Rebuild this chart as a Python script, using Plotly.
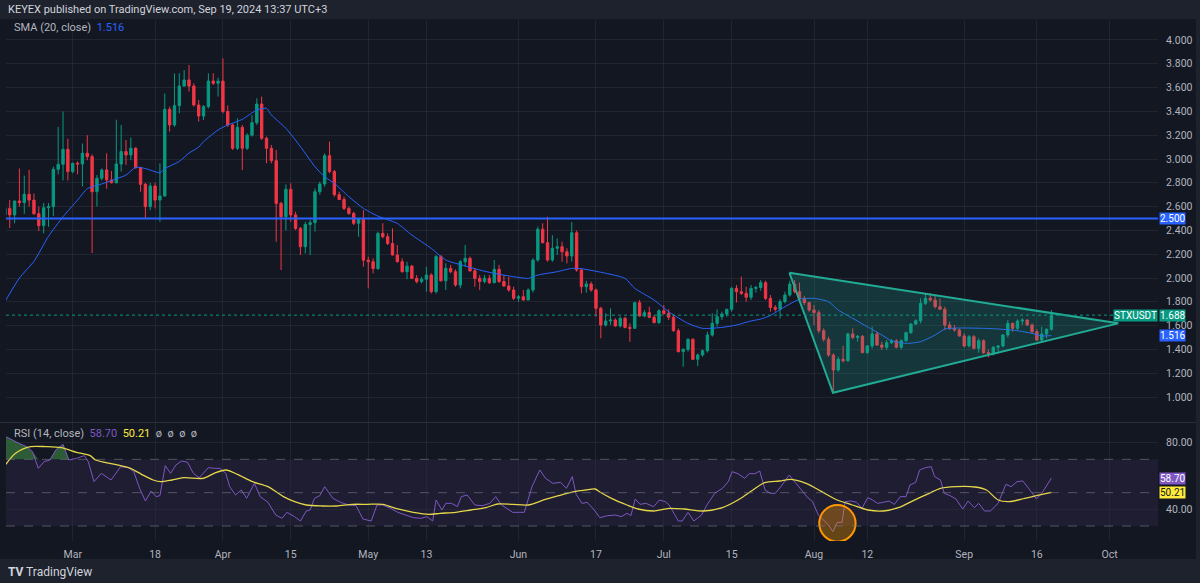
import pandas as pd
import plotly.graph_objects as go

# STX/USDT daily candles, 16 Feb - 19 Sep 2024.
# Crypto candles open at the previous close, so only the first open is stored.
first_day = "2024-02-16"
first_open = 2.53

close = [
    2.585, 2.53, 2.647, 2.633, 2.703, 2.655, 2.54, 2.44, 2.59, 2.60, 2.913, 2.955, 3.081, 2.894,  # Feb 16-29
    2.964, 2.958, 3.048, 3.02, 2.725, 2.838, 2.908, 2.824, 2.80, 2.958, 3.062, 3.034, 3.09, 2.927, 2.787, 2.60,
    2.773, 2.655, 2.689, 3.417, 3.286, 3.448, 3.613, 3.664, 3.613, 3.454, 3.361, 3.44, 3.655, 3.636, 3.655,  # Mar
    3.40, 3.286, 3.09, 3.266, 3.09, 3.20, 3.305, 3.462, 3.174, 3.09, 2.986, 2.627, 2.515, 2.745, 2.53,
    2.417, 2.263, 2.45, 2.465, 2.725, 2.79, 3.028, 2.894, 2.70, 2.66, 2.585, 2.543, 2.46, 2.493, 2.15,  # Apr
    2.137, 2.08, 2.375, 2.347, 2.29, 2.193, 2.137, 2.053, 2.10, 1.997, 1.97, 1.99, 2.025, 1.885, 2.18, 1.977,
    2.081, 2.053, 1.941, 2.137, 2.165, 2.06, 1.997, 1.97, 1.997, 1.96, 2.073, 1.97, 1.933, 1.899, 1.83,  # May
    1.843, 1.815, 1.899, 2.151, 2.41, 2.297, 2.151, 2.25, 2.263, 2.22, 2.185, 2.38, 2.067, 1.927, 1.95,
    1.899, 1.745, 1.605, 1.639, 1.647, 1.597, 1.661, 1.585, 1.577, 1.793, 1.681, 1.709, 1.67, 1.625, 1.725,  # Jun
    1.703, 1.67, 1.557, 1.381, 1.40, 1.485, 1.317, 1.353, 1.389, 1.521, 1.619, 1.675, 1.697, 1.737, 1.913, 1.885,
    1.871, 1.838, 1.913, 1.92, 1.961, 1.829, 1.753, 1.737, 1.801, 1.857, 1.949, 1.885, 1.829, 1.793, 1.731,  # Jul
    1.709, 1.557, 1.485, 1.353, 1.227, 1.317, 1.305, 1.53, 1.50, 1.51, 1.373, 1.429, 1.53, 1.437, 1.418, 1.457,
    1.473, 1.418, 1.473, 1.541, 1.613, 1.641, 1.787, 1.829, 1.815, 1.759, 1.737, 1.605, 1.577, 1.563, 1.513,  # Aug
    1.429, 1.507, 1.409, 1.473, 1.373, 1.361, 1.418, 1.429, 1.521, 1.619, 1.577, 1.639, 1.647, 1.605, 1.549,
    1.479, 1.529, 1.569, 1.688,  # Sep 1-19
]
high = [
    2.60, 2.655, 2.65, 2.92, 2.86, 2.91, 2.71, 2.60, 2.63, 2.63, 2.935, 3.27, 3.40, 3.17,
    2.97, 2.98, 3.13, 3.20, 3.04, 2.865, 2.92, 3.048, 2.90, 3.33, 3.286, 3.16, 3.18, 3.10, 2.935, 2.80,
    2.80, 2.80, 2.964, 3.55, 3.44, 3.72, 3.72, 3.748, 3.79, 3.636, 3.496, 3.454, 3.72, 3.72, 3.683,
    3.846, 3.45, 3.30, 3.342, 3.286, 3.216, 3.37, 3.51, 3.524, 3.188, 3.118, 3.076, 2.64, 2.787, 2.795,
    2.557, 2.43, 2.473, 2.487, 2.753, 2.81, 3.048, 3.146, 2.908, 2.726, 2.683, 2.60, 2.557, 2.50, 2.57,
    2.18, 2.165, 2.39, 2.46, 2.375, 2.417, 2.277, 2.165, 2.137, 2.11, 2.025, 2.01, 2.095, 2.04, 2.193, 2.193,
    2.123, 2.11, 2.073, 2.151, 2.277, 2.18, 2.081, 2.025, 2.025, 2.025, 2.151, 2.11, 2.025, 2.011, 1.927,
    1.857, 1.899, 1.913, 2.165, 2.432, 2.46, 2.515, 2.36, 2.333, 2.305, 2.25, 2.47, 2.40, 2.081, 1.977,
    1.97, 1.913, 1.759, 1.703, 1.745, 1.661, 1.675, 1.675, 1.619, 1.801, 1.815, 1.731, 1.759, 1.689, 1.737,
    1.773, 1.737, 1.689, 1.577, 1.409, 1.493, 1.493, 1.367, 1.40, 1.549, 1.703, 1.737, 1.717, 1.742, 1.927, 1.941,
    2.011, 1.927, 1.941, 1.933, 1.983, 1.977, 1.857, 1.773, 1.821, 1.885, 1.977, 1.983, 1.961, 1.849, 1.801,
    1.773, 1.731, 1.577, 1.507, 1.367, 1.339, 1.43, 1.541, 1.577, 1.521, 1.521, 1.437, 1.591, 1.549, 1.465, 1.479,
    1.485, 1.485, 1.485, 1.549, 1.62, 1.653, 1.829, 1.871, 1.871, 1.849, 1.829, 1.759, 1.633, 1.605, 1.577,
    1.535, 1.521, 1.521, 1.493, 1.485, 1.40, 1.429, 1.437, 1.529, 1.647, 1.625, 1.653, 1.661, 1.653, 1.619,
    1.569, 1.591, 1.577, 1.731,
]
low = [
    2.52, 2.42, 2.46, 2.60, 2.54, 2.60, 2.53, 2.395, 2.375, 2.43, 2.52, 2.87, 2.82, 2.82,
    2.88, 2.87, 2.77, 2.99, 2.21, 2.60, 2.82, 2.75, 2.795, 2.795, 2.894, 2.95, 2.99, 2.92, 2.725, 2.50,
    2.57, 2.585, 2.473, 2.683, 3.23, 3.27, 3.384, 3.608, 3.566, 3.44, 3.314, 3.328, 3.426, 3.622, 3.524,
    3.384, 3.27, 3.076, 3.076, 2.908, 3.076, 3.188, 3.286, 3.16, 2.964, 2.964, 2.305, 2.067, 2.40, 2.473,
    2.403, 2.193, 2.207, 2.193, 2.39, 2.70, 2.767, 2.88, 2.683, 2.655, 2.571, 2.53, 2.445, 2.347, 2.095,
    1.913, 2.04, 2.067, 2.333, 2.277, 2.19, 2.13, 2.045, 1.99, 1.99, 1.955, 1.955, 1.885, 1.87, 1.87, 1.97,
    1.899, 2.04, 1.927, 1.913, 2.095, 2.053, 1.927, 1.899, 1.955, 1.95, 1.96, 1.96, 1.927, 1.885, 1.815,
    1.80, 1.81, 1.815, 1.877, 2.137, 2.29, 2.137, 2.137, 2.193, 2.137, 2.123, 2.137, 2.053, 1.871, 1.877,
    1.885, 1.675, 1.493, 1.591, 1.605, 1.591, 1.585, 1.577, 1.465, 1.577, 1.675, 1.67, 1.661, 1.619, 1.613,
    1.689, 1.647, 1.549, 1.375, 1.255, 1.381, 1.311, 1.26, 1.339, 1.373, 1.507, 1.591, 1.647, 1.675, 1.717, 1.793,
    1.857, 1.801, 1.815, 1.877, 1.893, 1.815, 1.717, 1.717, 1.661, 1.787, 1.843, 1.871, 1.815, 1.773, 1.717,
    1.605, 1.535, 1.465, 1.339, 1.045, 1.213, 1.29, 1.297, 1.485, 1.465, 1.367, 1.361, 1.409, 1.429, 1.395, 1.395,
    1.445, 1.409, 1.401, 1.465, 1.53, 1.605, 1.619, 1.773, 1.801, 1.745, 1.731, 1.563, 1.563, 1.549, 1.507,
    1.417, 1.417, 1.40, 1.373, 1.361, 1.333, 1.35, 1.381, 1.417, 1.501, 1.549, 1.563, 1.605, 1.597, 1.535,
    1.473, 1.465, 1.493, 1.557,
]

# SMA(20) line, read as (days from 1 Mar 2024, value)
sma_day = [-14, -11, -8, -5, -2, 1, 3, 6, 8, 11, 13, 15, 18, 19, 22, 24, 26, 27, 30, 32,
           35, 38, 40, 41, 44, 47, 50, 52, 54, 57, 60, 63, 65, 67, 70, 74, 77, 81, 84, 87,
           91, 94, 96, 100, 103, 105, 110, 114, 116, 120, 123, 127, 130, 134, 137, 140, 142, 144, 147, 150,
           153, 156, 158, 161, 164, 167, 169, 172, 175, 178, 180, 183, 188, 192, 195, 198, 200, 202]
sma_val = [1.80, 2.00, 2.14, 2.35, 2.515, 2.655, 2.75, 2.79, 2.82, 2.865, 2.93, 2.92, 2.885, 2.92, 2.98, 3.05, 3.10, 3.146, 3.244, 3.286,
           3.333, 3.412, 3.426, 3.37, 3.258, 3.104, 2.935, 2.85, 2.795, 2.683, 2.585, 2.52, 2.49, 2.459, 2.361, 2.249, 2.151, 2.101, 2.067, 2.039,
           2.011, 1.997, 2.025, 2.053, 2.081, 2.078, 2.04, 1.997, 1.913, 1.815, 1.717, 1.619, 1.577, 1.585, 1.605, 1.639, 1.655, 1.685, 1.759, 1.821,
           1.829, 1.801, 1.731, 1.661, 1.591, 1.521, 1.473, 1.451, 1.465, 1.521, 1.571, 1.58, 1.577, 1.569, 1.557, 1.535, 1.513, 1.516]

# RSI(14), read as (days from 1 Mar 2024, value)
rsi_day = [-13.8, -12.6, -11.1, -9.5, -8.3, -7.1, -5.9, -4.7, -3.5, -2.0, -0.8, 0.8, 2.4, 3.2, 4.4, 5.9, 7.9, 9.9, 11.5, 12.6,
           13.8, 15.0, 16.2, 17.2, 18.0, 19.1, 20.2, 21.3, 22.5, 23.7, 24.9, 26.1, 28.0, 29.2, 30.4, 31.6, 32.4, 33.6, 34.8, 35.9,
           37.5, 38.7, 40.3, 41.9, 43.2, 44.2, 45.8, 47.0, 48.2, 49.0, 49.9, 51.0, 52.0, 53.7, 55.3, 56.9, 58.5, 59.9, 61.6, 62.8,
           64.0, 65.6, 67.1, 68.7, 70.3, 71.9, 73.1, 74.3, 75.0, 76.2, 77.0, 78.2, 79.4, 80.2, 81.4, 83.0, 84.5, 86.1, 87.3, 88.5,
           90.8, 93.2, 94.8, 96.4, 97.6, 99.1, 100.7, 101.9, 103.1, 103.9, 105.1, 106.2, 107.8, 108.8,
           110.4, 112.0, 113.2, 114.4, 115.2, 116.1, 117.1, 118.3, 119.9, 121.1, 122.3, 123.1, 125.0, 125.8, 127.0, 128.2,
           129.8, 130.9, 132.5, 134.1, 135.3, 136.1, 137.3, 138.7, 139.6, 140.8, 141.8, 142.9, 144.0, 145.0, 146.1, 147.9,
           149.1, 150.3, 151.5, 152.7, 153.9, 155.0, 156.0, 156.9, 157.8, 158.8, 159.4, 160.6, 161.8, 162.9, 164.1, 165.1,
           166.1, 167.3, 168.5, 169.6, 170.8, 172.0, 172.8, 174.0, 174.8, 176.0, 177.2, 177.9, 179.1, 179.9, 181.1, 182.3,
           183.7, 184.8, 186.1, 187.0, 188.2, 189.4, 191.0, 192.6, 193.7, 194.9, 196.1, 197.3, 198.9, 200.0, 200.8, 202.0]
rsi_val = [83.6, 81.6, 79.6, 77.6, 74.6, 64.6, 68.6, 69.6, 75.6, 79, 69.6, 70.6, 72.2, 68.6, 56.6, 61.6, 57.6, 65.6, 65, 62.6,
           52.6, 45, 51, 47.6, 48.2, 66.2, 61.6, 66.6, 69, 68.2, 61.6, 59, 65, 64.6, 64.6, 61.6, 53.6, 48.6, 51.6, 46.6,
           55.6, 47.6, 44.2, 36.6, 34.6, 38.2, 35.6, 33, 39, 39.6, 46.6, 48.2, 53.6, 46.6, 44.2, 42.6, 42.2, 34.2, 33, 42.6,
           42.6, 40.6, 38.2, 36.6, 35, 34.6, 35.6, 33, 45.6, 39.6, 43.6, 43.6, 41.6, 47.6, 48.6, 42.6, 42.2, 43.6, 47.6, 42.6,
           38.2, 38.2, 53.6, 63.6, 58.6, 55.6, 56.2, 52.6, 59.6, 49, 43.6, 44.2, 39, 35,
           36.2, 36.6, 35.6, 37.6, 36.2, 46.2, 43, 43.6, 41.6, 45.6, 44.6, 42.6, 33, 33, 38.2, 33,
           36.6, 42.6, 49.6, 52.6, 56.6, 62.6, 61.4, 58.6, 61.4, 61.4, 63, 51.6, 49.6, 49.6, 53.4, 60.6,
           56, 52, 47.6, 44.6, 36.6, 33.6, 30.6, 26.6, 32.2, 32.2, 44.6, 45, 44.2, 40.6, 47, 45.6,
           43.6, 44.2, 45, 43, 47.6, 47.6, 54.6, 56.2, 63.6, 65, 65.6, 59.6, 57.6, 49.6, 48.2, 46.2,
           40.2, 45, 41, 43.6, 39, 39, 43.6, 55, 53.6, 56.6, 57, 52.6, 46.2, 49.6, 53.6, 58.7]

# RSI-based MA
rsi_ma_day = [-13.8, -11.8, -8.7, -5.5, -2.4, 0.8, 3.6, 4.7, 8.7, 11.9, 14.2, 16.6, 18.2, 20.5, 22.9, 26.9, 29.2, 31.6, 34.0, 37.1,
              40.3, 43.5, 45.8, 48.2, 51.4, 54.5, 57.7, 60.8, 64.0, 67.1, 70.3, 73.5, 75.8, 79.0, 82.2, 85.3, 87.7, 90.8, 94.0, 97.2,
              100.3, 103.5, 105.9, 107.8, 108.8, 111.2, 114.4, 116.7, 119.9, 123.1, 126.2, 130.2, 134.1, 137.3, 140.4, 142.8, 145.9, 148.3,
              151.5, 154.6, 157.8, 160.9, 164.1, 167.3, 170.4, 173.6, 176.8, 179.1, 182.3, 186.2, 188.6, 191.0, 193.3, 196.5, 198.9, 202.0]
rsi_ma_val = [67, 73.6, 77.6, 77.6, 77, 74.2, 72.2, 69.6, 67, 64.6, 61, 57.6, 56.6, 57.6, 59, 58.6, 61.6, 63.6, 61, 56.6,
              53.6, 47.6, 44.6, 42.6, 42, 42, 43, 43, 43, 40.2, 38.2, 37, 37.6, 38.2, 39.6, 41, 43.2, 43, 42.6, 45.6,
              48.2, 50.6, 51.6, 52.2, 50.4, 46.6, 42.6, 40.2, 39, 40.6, 40.2, 39, 41, 45.6, 51.6, 56, 57, 58,
              55.4, 50.6, 45.6, 42.6, 39.6, 39, 41, 45.4, 49.6, 52.6, 53.6, 53.4, 51.6, 45.6, 44.6, 46.6, 48.2, 50.2]

# drawings
hline_level = 2.5
tri_x = ["2024-07-26 22:00", "2024-08-04 22:00", "2024-10-02 19:00", "2024-07-26 22:00"]
tri_y = [2.044, 1.036, 1.619, 2.044]
circle_x = ["2024-08-02 02:00", "2024-08-09 14:00"]
circle_y = [20.6, 42.6]

price_ticks = [1.0, 1.2, 1.4, 1.6, 1.8, 2.0, 2.2, 2.4, 2.6, 2.8, 3.0, 3.2, 3.4, 3.6, 3.8, 4.0]
rsi_ticks = [40, 80]
tick_dates = ["2024-03-01", "2024-03-18", "2024-04-01", "2024-04-15", "2024-05-01", "2024-05-13", "2024-06-01",
              "2024-06-17", "2024-07-01", "2024-07-15", "2024-08-01", "2024-08-12", "2024-09-01", "2024-09-16",
              "2024-10-01"]
tick_text = ["Mar", "18", "Apr", "15", "May", "13", "Jun", "17", "Jul", "15", "Aug", "12", "Sep", "16", "Oct"]

last_price = 1.688
last_sma = 1.516
last_rsi = 58.70
last_rsi_ma = 50.21

BG = "#131722"
GRID = "rgba(42,46,57,0.6)"
TXT = "#b2b5be"
UP = "#089981"
DOWN = "#f23645"
FONT = "Roboto, 'Liberation Sans', sans-serif"

dates = pd.date_range(first_day, periods=len(close), freq="D")
opens = [first_open] + close[:-1]
base = pd.Timestamp("2024-03-01")


def to_dates(days):
    return [base + pd.Timedelta(days=d) for d in days]


# pixel helpers for the page overlay (plot area is x 6..1158, y 20..541)
def px(x):
    return (x - 6) / 1152


def py(y):
    return (541 - y) / 521


fig = go.Figure()

fig.add_trace(go.Candlestick(
    x=dates, open=opens, high=high, low=low, close=close,
    increasing=dict(line=dict(color=UP, width=1), fillcolor=UP),
    decreasing=dict(line=dict(color=DOWN, width=1), fillcolor=DOWN),
    whiskerwidth=0, showlegend=False, hoverinfo="skip",
    xaxis="x", yaxis="y",
))

fig.add_trace(go.Scatter(
    x=to_dates(sma_day), y=sma_val, mode="lines",
    line=dict(color="#2962ff", width=1, shape="spline", smoothing=0.6),
    showlegend=False, hoverinfo="skip", xaxis="x", yaxis="y",
))

# triangle drawing
fig.add_trace(go.Scatter(
    x=tri_x, y=tri_y, mode="lines", fill="toself",
    fillcolor="rgba(34,171,148,0.22)", line=dict(color="#22ab94", width=2),
    showlegend=False, hoverinfo="skip", xaxis="x", yaxis="y",
))

# RSI overbought fill (first stretch above 70)
ob_idx = [i for i, d in enumerate(rsi_day) if d <= -0.8]
ob_x = to_dates([rsi_day[i] for i in ob_idx])
fig.add_trace(go.Scatter(
    x=ob_x, y=[70] * len(ob_idx), mode="lines", line=dict(width=0),
    showlegend=False, hoverinfo="skip", xaxis="x2", yaxis="y2",
))
fig.add_trace(go.Scatter(
    x=ob_x, y=[max(rsi_val[i], 70) for i in ob_idx], mode="lines", line=dict(width=0),
    fill="tonexty", fillcolor="rgba(76,175,80,0.45)",
    showlegend=False, hoverinfo="skip", xaxis="x2", yaxis="y2",
))

fig.add_trace(go.Scatter(
    x=to_dates(rsi_day), y=rsi_val, mode="lines",
    line=dict(color="#7e57c2", width=1),
    showlegend=False, hoverinfo="skip", xaxis="x2", yaxis="y2",
))
fig.add_trace(go.Scatter(
    x=to_dates(rsi_ma_day), y=rsi_ma_val, mode="lines",
    line=dict(color="#e6d64a", width=1.3, shape="spline", smoothing=0.8),
    showlegend=False, hoverinfo="skip", xaxis="x2", yaxis="y2",
))

shapes = [
    # chart background (header and footer keep the paper colour)
    dict(type="rect", xref="paper", yref="paper", x0=px(0), x1=px(1196), y0=py(559), y1=py(19),
         fillcolor=BG, line_width=0, layer="below"),
    # pane separator
    dict(type="line", xref="paper", yref="paper", x0=px(0), x1=px(1196), y0=py(422.5), y1=py(422.5),
         line=dict(color="#2a2e39", width=1)),
    # RSI band
    dict(type="rect", xref="paper", yref="y2", x0=0, x1=1, y0=30, y1=70,
         fillcolor="rgba(126,87,194,0.1)", line_width=0, layer="below"),
    dict(type="line", xref="x", yref="y", x0="2024-02-10", x1="2024-10-20", y0=hline_level, y1=hline_level,
         line=dict(color="#2962ff", width=2)),
    dict(type="line", xref="paper", yref="y", x0=0, x1=1, y0=last_price, y1=last_price,
         line=dict(color=UP, width=1, dash="dot")),
    dict(type="circle", xref="x2", yref="y2", x0=circle_x[0], x1=circle_x[1], y0=circle_y[0], y1=circle_y[1],
         fillcolor="rgba(255,152,0,0.35)", line=dict(color="#ff9800", width=2)),
]
for lvl in (70, 50, 30):
    shapes.append(dict(type="line", xref="paper", yref="y2", x0=0, x1=1, y0=lvl, y1=lvl,
                       line=dict(color="rgba(120,123,134,0.6)", width=1, dash="dash")))

ann = []


def tag(text, y, yref, bg, fg="#ffffff", anchor="left", shift=1):
    ann.append(dict(x=1, xref="paper", y=y, yref=yref, text=text, showarrow=False,
                    xanchor=anchor, yanchor="middle", xshift=shift, bgcolor=bg, borderpad=0,
                    height=11, valign="middle",
                    font=dict(family=FONT, size=10, color=fg)))


tag(f"{hline_level:.3f}", hline_level, "y", "#2962ff")
tag("STXUSDT", last_price, "y", UP, anchor="right", shift=0)
tag(f"{last_price:.3f}", last_price, "y", UP)
tag(f"{last_sma:.3f}", last_sma, "y", "#2962ff")
tag(f"{last_rsi:.2f}", last_rsi, "y2", "#7e57c2")
tag(f"{last_rsi_ma:.2f}", last_rsi_ma, "y2", "#ffeb3b", fg="#131722")

ann += [
    dict(x=px(6), y=py(9), xref="paper", yref="paper", xanchor="left", yanchor="middle", showarrow=False,
         text="KEYEX published on TradingView.com, Sep 19, 2024 13:37 UTC+3",
         font=dict(family=FONT, size=11, color="#d1d4dc")),
    dict(x=px(12), y=py(27), xref="paper", yref="paper", xanchor="left", yanchor="middle", showarrow=False,
         text="SMA (20, close)  <span style='color:#2962ff'>1.516</span>",
         font=dict(family=FONT, size=11, color=TXT)),
    dict(x=px(12), y=py(433), xref="paper", yref="paper", xanchor="left", yanchor="middle", showarrow=False,
         text="RSI (14, close)  <span style='color:#7e57c2'>58.70</span>  "
              "<span style='color:#ffeb3b'>50.21</span>  ø  ø  ø  ø",
         font=dict(family=FONT, size=11, color=TXT)),
    dict(x=px(6), y=py(572), xref="paper", yref="paper", xanchor="left", yanchor="middle", showarrow=False,
         text="<b>TV</b> TradingView", font=dict(family=FONT, size=12, color="#d1d4dc")),
]

x_range = ["2024-02-16 05:31", "2024-10-11 00:00"]
axis_font = dict(family=FONT, size=10.5, color=TXT)

fig.update_layout(
    width=1200, height=583,
    margin=dict(l=6, r=42, t=20, b=42),
    paper_bgcolor="#1e222d", plot_bgcolor=BG,
    font=axis_font,
    showlegend=False,
    shapes=shapes, annotations=ann,
    xaxis=dict(domain=[0, 1], anchor="y", range=x_range, type="date", rangeslider=dict(visible=False),
               tickvals=tick_dates, ticktext=tick_text, showticklabels=False,
               showgrid=True, gridcolor=GRID, zeroline=False, showline=False),
    xaxis2=dict(domain=[0, 1], anchor="y2", range=x_range, type="date", matches="x",
                tickvals=tick_dates, ticktext=tick_text, tickfont=axis_font,
                ticks="outside", ticklen=3, tickcolor="rgba(0,0,0,0)",
                showgrid=True, gridcolor=GRID, zeroline=False, showline=False),
    yaxis=dict(domain=[0.2284, 1], range=[0.790, 4.168], side="right",
               tickvals=price_ticks, ticktext=[f"{v:.3f}" for v in price_ticks], tickfont=axis_font,
               ticks="outside", ticklen=5, tickcolor="rgba(0,0,0,0)",
               showgrid=True, gridcolor=GRID, zeroline=False, showline=False),
    yaxis2=dict(domain=[0, 0.2265], range=[21.0, 91.8], side="right",
                tickvals=rsi_ticks, ticktext=[f"{v:.2f}" for v in rsi_ticks], tickfont=axis_font,
                ticks="outside", ticklen=5, tickcolor="rgba(0,0,0,0)",
                showgrid=True, gridcolor=GRID, zeroline=False, showline=False),
)

# drop the browser's default page margin so the 1200x583 figure fills the window
fig.write_html("out.html", config={"displayModeBar": False},
               post_script="document.body.style.margin='0';")
